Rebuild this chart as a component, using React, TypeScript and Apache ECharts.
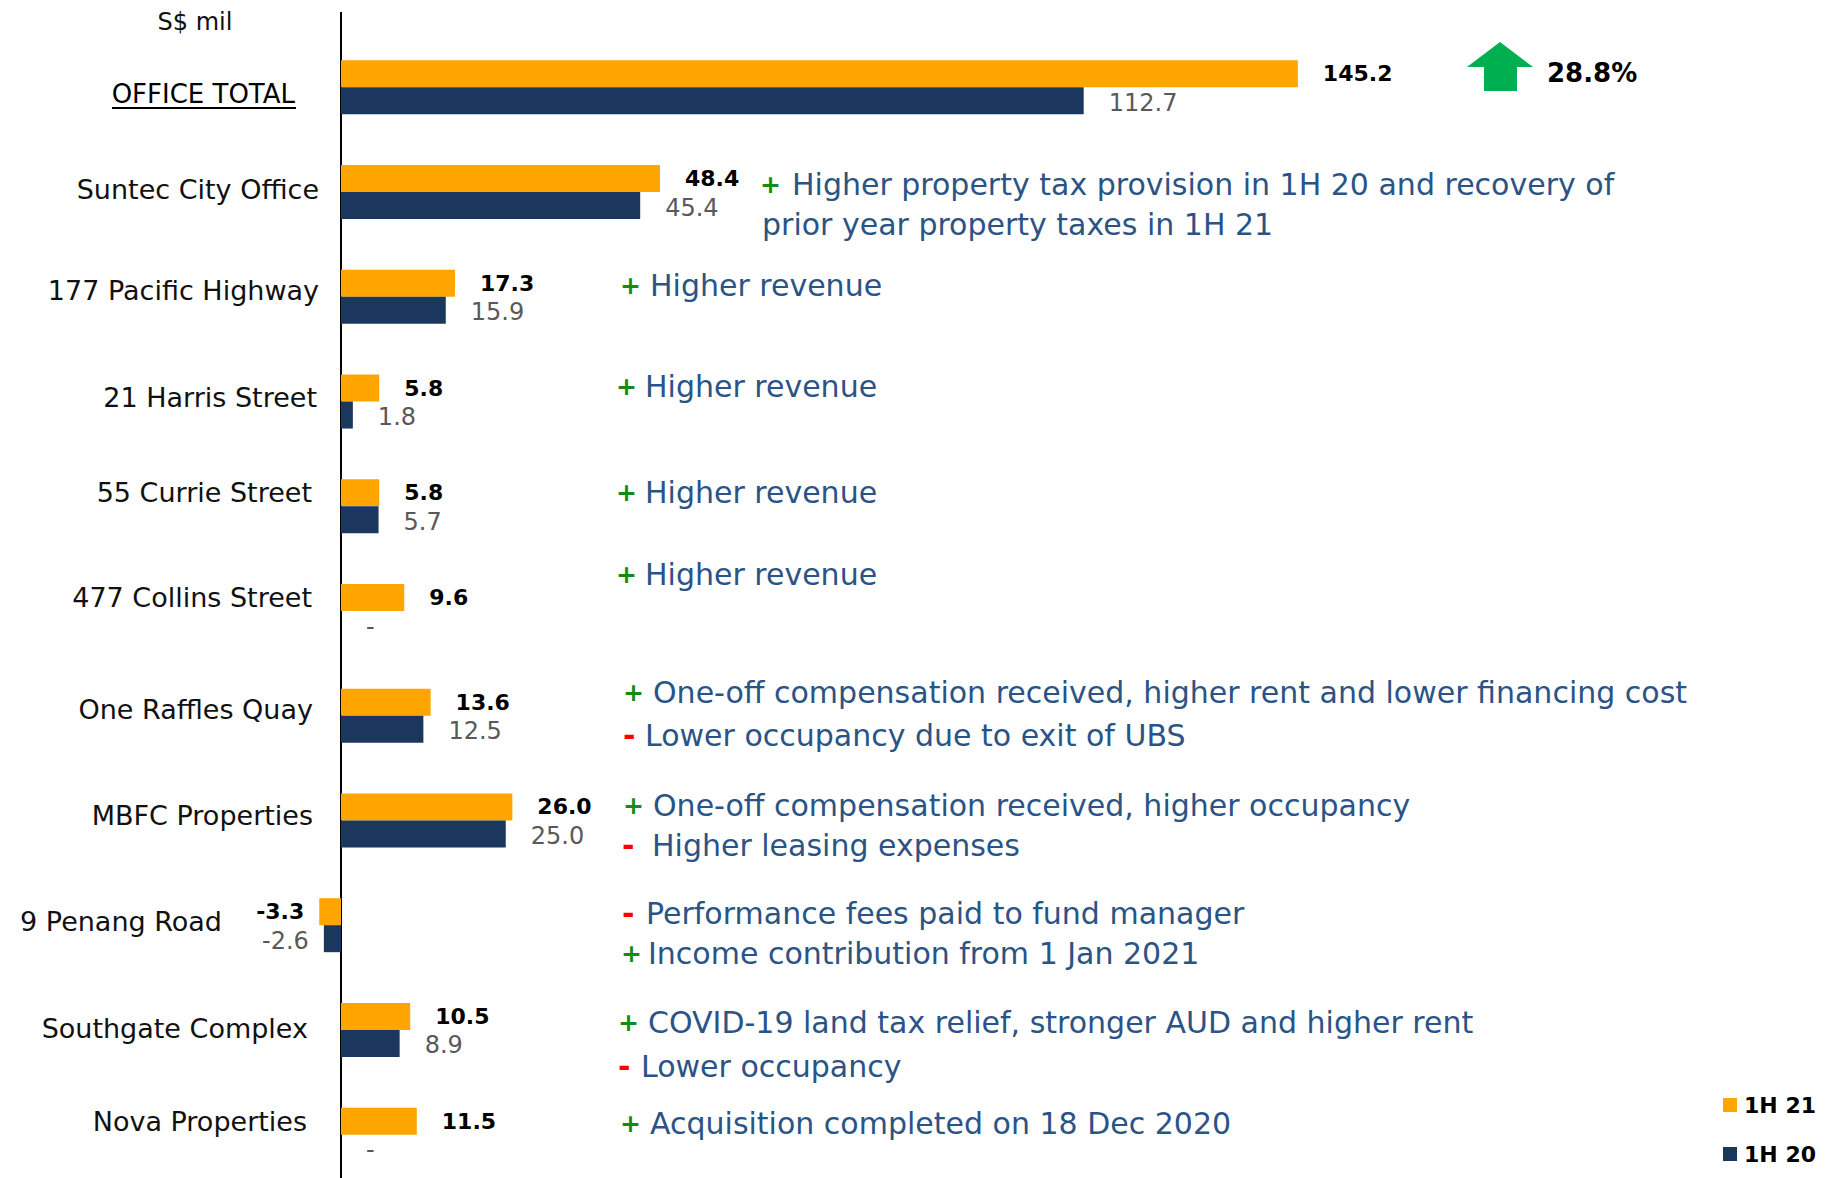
import React, { useEffect, useRef } from "react";
import * as echarts from "echarts";

const categories = [
  "OFFICE TOTAL",
  "Suntec City Office",
  "177 Pacific Highway",
  "21 Harris Street",
  "55 Currie Street",
  "477 Collins Street",
  "One Raffles Quay",
  "MBFC Properties",
  "9 Penang Road",
  "Southgate Complex",
  "Nova Properties",
];
const values1H21 = [145.2, 48.4, 17.3, 5.8, 5.8, 9.6, 13.6, 26.0, -3.3, 10.5, 11.5];
const values1H20 = [112.7, 45.4, 15.9, 1.8, 5.7, 0, 12.5, 25.0, -2.6, 8.9, 0];
const seriesNames = ["1H 21", "1H 20"];
const totalChange = "28.8%";
const unitLabel = "S$ mil";

const annotationSigns = ["+", "", "+", "+", "+", "+", "+", "-", "+", "-", "-", "+", "+", "-", "+"];
const annotationTexts = [
  "Higher property tax provision in 1H 20 and recovery of",
  "prior year property taxes in 1H 21",
  "Higher revenue",
  "Higher revenue",
  "Higher revenue",
  "Higher revenue",
  "One-off compensation received, higher rent and lower financing cost",
  "Lower occupancy due to exit of UBS",
  "One-off compensation received, higher occupancy",
  "Higher leasing expenses",
  "Performance fees paid to fund manager",
  "Income contribution from 1 Jan 2021",
  "COVID-19 land tax relief, stronger AUD and higher rent",
  "Lower occupancy",
  "Acquisition completed on 18 Dec 2020",
];

// layout of the annotation rows: [signX, textX, y]
const annotationLayout = [
  [760, 792, 184],
  [762, 762, 224],
  [620, 650, 285],
  [616, 645, 386],
  [616, 645, 492],
  [616, 645, 574],
  [623, 653, 692],
  [623, 645, 735],
  [623, 653, 805],
  [622, 652, 845],
  [622, 646, 913],
  [621, 648, 953],
  [618, 648, 1022],
  [618, 641, 1066],
  [620, 650, 1123],
];

// category label layout: vertical shift from band centre, extra right padding
const labelShiftY = [7, -3, -6.5, -4, -14, -14, -6.5, -5, -4, -1, -13];
const labelPadRight = [24, 0, 0, 2, 7, 7, 6, 6, 97, 11, 12];

const FONT = "'DejaVu Sans', sans-serif";
const ORANGE = "#FFA500";
const NAVY = "#1B375E";
const NOTE = "#2B5486";

export default function App() {
  const ref = useRef<HTMLDivElement>(null);
  useEffect(() => {
    document.body.style.margin = "0";
    if (!ref.current) return;
    const chart = echarts.init(ref.current, undefined, { renderer: "svg" });

    const fmt = (p: any) => {
      const v = typeof p.value === "number" ? p.value : Number(p.value);
      return v === 0 ? "-" : v.toFixed(1);
    };
    const mk = (arr: number[]) =>
      arr.map((v) => (v < 0 ? { value: v, label: { position: "left", distance: 15 } } : v));

    const rich: any = {};
    categories.forEach((c, i) => {
      const s = labelShiftY[i];
      rich["c" + i] = {
        fontFamily: FONT,
        fontSize: i === 0 ? 26 : 27,
        color: i === 0 ? "#000" : "#111",
        padding: s < 0 ? [0, labelPadRight[i], -2 * s, 0] : [2 * s, labelPadRight[i], 0, 0],
      };
    });

    const graphics: any[] = [
      { type: "line", shape: { x1: 341, y1: 12, x2: 341, y2: 36 }, style: { stroke: "#000", lineWidth: 2 } },
      {
        type: "text",
        x: 195,
        y: 22,
        style: { text: unitLabel, fontFamily: FONT, fontSize: 24, fill: "#111", align: "center", verticalAlign: "middle" },
      },
      { type: "line", shape: { x1: 112, y1: 108, x2: 296, y2: 108 }, style: { stroke: "#000", lineWidth: 2 } },
      {
        type: "polygon",
        shape: {
          points: [
            [1500, 42],
            [1533, 67],
            [1517, 67],
            [1517, 91],
            [1484, 91],
            [1484, 67],
            [1467, 67],
          ],
        },
        style: { fill: "#00B050" },
      },
      {
        type: "text",
        x: 1547,
        y: 73,
        style: { text: totalChange, fontFamily: FONT, fontSize: 26, fontWeight: "bold", fill: "#000", verticalAlign: "middle" },
      },
    ];
    annotationTexts.forEach((t, i) => {
      const [sx, tx, y] = annotationLayout[i];
      const s = annotationSigns[i];
      if (s) {
        graphics.push({
          type: "text",
          x: sx,
          y: y,
          style: {
            text: s,
            fontFamily: FONT,
            fontSize: s === "+" ? 25 : 30,
            fontWeight: "bold",
            fill: s === "+" ? "#128C12" : "#FF0000",
            verticalAlign: "middle",
          },
        });
      }
      graphics.push({
        type: "text",
        x: tx,
        y: y,
        style: { text: t, fontFamily: FONT, fontSize: 30, fill: NOTE, verticalAlign: "middle" },
      });
    });

    chart.setOption({
      animation: false,
      grid: { left: 341, top: 35, width: 1383.9, height: 1152, containLabel: false, outerBoundsMode: "none" },
      legend: {
        data: seriesNames,
        orient: "vertical",
        right: 8,
        top: 1089,
        itemWidth: 14,
        itemHeight: 14,
        itemGap: 27,
        icon: "rect",
        textStyle: { fontFamily: FONT, fontSize: 22, fontWeight: "bold", color: "#000", padding: [0, 0, 0, 2] },
      },
      xAxis: {
        type: "value",
        min: 0,
        max: 210,
        axisLine: { show: false },
        axisTick: { show: false },
        axisLabel: { show: false },
        splitLine: { show: false },
      },
      yAxis: {
        type: "category",
        inverse: true,
        data: categories,
        axisLine: { show: true, onZero: false, lineStyle: { color: "#000", width: 2 } },
        axisTick: { show: false },
        axisLabel: {
          margin: 22,
          formatter: (v: string, idx: number) => `{c${idx}|${v}}`,
          rich,
        },
      },
      series: [
        {
          name: seriesNames[0],
          type: "bar",
          data: mk(values1H21),
          barWidth: 27,
          barGap: "0%",
          clip: false,
          itemStyle: { color: ORANGE },
          label: {
            show: true,
            position: "right",
            distance: 25,
            formatter: fmt,
            fontFamily: FONT,
            fontSize: 22,
            fontWeight: "bold",
            color: "#000",
          },
        },
        {
          name: seriesNames[1],
          type: "bar",
          data: mk(values1H20),
          barWidth: 27,
          barGap: "0%",
          clip: false,
          itemStyle: { color: NAVY },
          label: {
            show: true,
            position: "right",
            distance: 25,
            offset: [0, 2],
            formatter: fmt,
            fontFamily: FONT,
            fontSize: 24,
            color: "#595959",
          },
        },
      ],
      graphic: graphics,
    });
    return () => chart.dispose();
  }, []);
  return <div ref={ref} style={{ width: 1829, height: 1178 }} />;
}
